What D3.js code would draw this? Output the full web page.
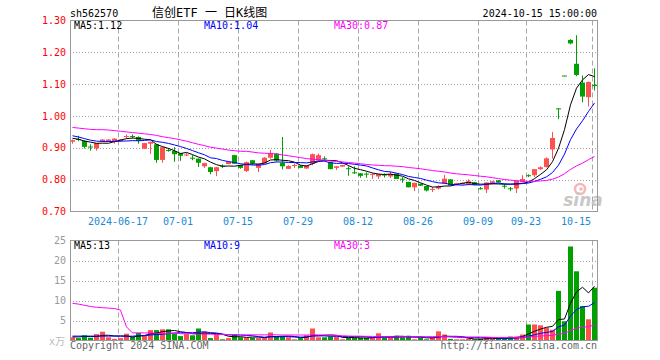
<!DOCTYPE html>
<html><head><meta charset="utf-8">
<script src="https://cdn.jsdelivr.net/npm/d3@7"></script>
<style>html,body{margin:0;padding:0;background:#fff}svg{display:block}</style>
</head><body>
<svg id="chart" width="660" height="360"></svg>
<script>
// ---- data ----
const dates = ["2024-06-04","2024-06-05","2024-06-06","2024-06-07","2024-06-11","2024-06-12","2024-06-13","2024-06-14","2024-06-17","2024-06-18","2024-06-19","2024-06-20","2024-06-21","2024-06-24","2024-06-25","2024-06-26","2024-06-27","2024-06-28",
"2024-07-01","2024-07-02","2024-07-03","2024-07-04","2024-07-05","2024-07-08","2024-07-09","2024-07-10","2024-07-11","2024-07-12","2024-07-15","2024-07-16","2024-07-17","2024-07-18","2024-07-19","2024-07-22","2024-07-23","2024-07-24","2024-07-25","2024-07-26","2024-07-29","2024-07-30","2024-07-31",
"2024-08-01","2024-08-02","2024-08-05","2024-08-06","2024-08-07","2024-08-08","2024-08-09","2024-08-12","2024-08-13","2024-08-14","2024-08-15","2024-08-16","2024-08-19","2024-08-20","2024-08-21","2024-08-22","2024-08-23","2024-08-26","2024-08-27","2024-08-28","2024-08-29","2024-08-30",
"2024-09-02","2024-09-03","2024-09-04","2024-09-05","2024-09-06","2024-09-09","2024-09-10","2024-09-11","2024-09-12","2024-09-13","2024-09-18","2024-09-19","2024-09-20","2024-09-23","2024-09-24","2024-09-25","2024-09-26","2024-09-27","2024-09-30",
"2024-10-08","2024-10-09","2024-10-10","2024-10-11","2024-10-14","2024-10-15"];
const opens  = [0.919,0.928,0.922,0.904,0.898,0.920,0.921,0.920,0.921,0.934,0.937,0.934,0.897,0.913,0.911,0.862,0.893,0.890,0.883,0.878,0.869,0.866,0.842,0.839,0.827,0.844,0.849,0.877,0.846,0.827,0.861,0.837,0.850,0.869,0.882,0.853,0.834,0.844,0.844,0.835,0.850,0.860,0.867,0.855,0.837,0.841,0.836,0.823,0.820,0.819,0.817,0.810,0.816,0.810,0.819,0.803,0.793,0.776,0.787,0.780,0.770,0.772,0.788,0.801,0.784,0.786,0.784,0.792,0.773,0.769,0.786,0.798,0.781,0.773,0.772,0.792,0.814,0.814,0.833,0.840,0.895,1.024,1.127,1.239,1.164,1.105,1.059,1.098];
const highs  = [0.926,0.938,0.924,0.911,0.915,0.927,0.927,0.930,0.927,0.942,0.942,0.936,0.916,0.920,0.913,0.904,0.900,0.902,0.884,0.884,0.877,0.867,0.853,0.840,0.840,0.848,0.857,0.878,0.847,0.857,0.862,0.851,0.871,0.893,0.884,0.934,0.845,0.851,0.846,0.846,0.882,0.882,0.873,0.856,0.843,0.847,0.842,0.842,0.821,0.823,0.820,0.818,0.820,0.826,0.819,0.808,0.793,0.791,0.788,0.780,0.777,0.782,0.815,0.802,0.790,0.791,0.801,0.793,0.777,0.791,0.796,0.799,0.787,0.777,0.797,0.814,0.817,0.834,0.842,0.870,0.950,1.024,1.127,1.241,1.254,1.127,1.108,1.150];
const lows   = [0.913,0.921,0.898,0.891,0.891,0.918,0.919,0.913,0.919,0.929,0.930,0.913,0.896,0.881,0.853,0.853,0.888,0.856,0.859,0.874,0.861,0.840,0.837,0.817,0.811,0.837,0.848,0.850,0.834,0.824,0.846,0.824,0.849,0.866,0.856,0.832,0.833,0.837,0.836,0.834,0.845,0.858,0.860,0.833,0.830,0.840,0.812,0.818,0.806,0.806,0.802,0.802,0.807,0.805,0.802,0.790,0.776,0.764,0.780,0.763,0.761,0.769,0.787,0.782,0.782,0.784,0.783,0.782,0.769,0.758,0.785,0.790,0.772,0.764,0.758,0.791,0.808,0.808,0.831,0.838,0.866,0.990,1.126,1.225,1.125,1.043,1.030,1.080];
const closes = [0.924,0.927,0.903,0.902,0.915,0.926,0.926,0.929,0.926,0.937,0.935,0.922,0.915,0.919,0.862,0.902,0.892,0.880,0.875,0.879,0.868,0.853,0.852,0.824,0.839,0.843,0.856,0.850,0.837,0.855,0.851,0.850,0.869,0.884,0.860,0.842,0.843,0.846,0.837,0.845,0.880,0.877,0.866,0.833,0.842,0.846,0.835,0.822,0.812,0.818,0.818,0.818,0.815,0.818,0.802,0.802,0.776,0.790,0.781,0.766,0.771,0.779,0.803,0.782,0.789,0.790,0.795,0.783,0.772,0.791,0.795,0.791,0.780,0.772,0.796,0.802,0.813,0.833,0.839,0.867,0.931,1.023,1.126,1.228,1.129,1.061,1.107,1.094];
const volumes = [0.8,0.6,1.3,0.7,1.6,2.2,0.8,0.4,0.6,1.7,0.9,1.9,1.2,2.6,2.6,2.8,2.8,1.7,1.1,1.6,1.3,3.0,2.2,0.6,1.6,0.3,0.6,1.5,0.8,0.7,0.7,0.6,0.8,2.0,0.9,1.0,0.8,0.3,0.6,1.3,3.0,0.8,0.8,1.0,0.9,0.3,0.7,0.7,0.7,0.7,0.7,1.8,0.7,0.8,1.2,0.8,1.2,0.3,0.7,0.3,0.7,2.3,1.5,0.4,0.3,0.3,0.5,0.3,0.4,0.7,0.4,0.7,0.7,1.0,1.0,1.5,4.0,4.0,3.8,3.2,2.7,12.4,4.8,23.5,17.3,8.6,5.3,13.2];
// moving-average values before enough in-chart history exists
const priceMa5Head  = [0.930,0.927,0.921,0.918];
const priceMa10Head = [0.938,0.934,0.929,0.924,0.921,0.920,0.920,0.920,0.921];
const priceMa30Head = [0.964,0.962,0.960,0.958,0.957,0.957,0.956,0.954,0.952,0.950,0.948,0.946,0.944,0.942,0.939,0.935,0.932,0.929,0.925,0.921,0.916,0.911,0.907,0.902,0.899,0.896,0.893,0.891,0.889];
const volMa5Head  = [0.9,0.9,1.0,1.0];
const volMa10Head = [1.1,1.1,1.1,1.1,1.1,1.1,1.1,1.1,1.1];
const volMa30Head = [9.3,9.1,8.8,8.5,8.3,8.2,8.1,8.0,7.6,3.4,1.9,1.9,1.9,1.9,1.8,1.8,1.8,1.8,1.7,1.7,1.7,1.6,1.6,1.6,1.5,1.5,1.5,1.5,1.4];
const priceTicks = [0.70,0.80,0.90,1.00,1.10,1.20,1.30];
const volTicks = [5,10,15,20,25];
const dateTicks = ["2024-06-17","2024-07-01","2024-07-15","2024-07-29","2024-08-12","2024-08-26","2024-09-09","2024-09-23","2024-10-15"];
const dateTickLabels = ["2024-06-17","07-01","07-15","07-29","08-12","08-26","09-09","09-23","10-15"];
const legendPrice = ["MA5:1.12","MA10:1.04","MA30:0.87"];
const legendVol = ["MA5:13","MA10:9","MA30:3"];

// ---- helpers ----
function movingAvg(arr, k, head){
  return arr.map((v,i)=> i < k-1 ? head[i] : d3.mean(arr.slice(i-k+1,i+1)));
}
const pMa = [movingAvg(closes,5,priceMa5Head), movingAvg(closes,10,priceMa10Head), movingAvg(closes,30,priceMa30Head)];
const vMa = [movingAvg(volumes,5,volMa5Head), movingAvg(volumes,10,volMa10Head), movingAvg(volumes,30,volMa30Head)];
const maColors = ["#000000","#0000ff","#ff00ff"];
const UP = "#ff5050", DOWN = "#00a000";
const MONO = "'DejaVu Sans Mono', 'Noto Sans CJK SC', monospace";

const svg = d3.select("#chart");
const L = 70, R = 597, PT = 20.5, PB = 211.5, VT = 240.5, VB = 340.5;
const x = d3.scaleBand().domain(dates).range([70, 598]).paddingInner(0).paddingOuter(0);
const y = d3.scaleLinear().domain([0.70,1.30]).range([PB, PT]);
const vy = d3.scaleLinear().domain([0,25]).range([VB, VT]);
const cx = d => x(d) + 2.5;
const isUp = i => closes[i] >= opens[i];

// watermark
const wm = svg.append("g");
wm.append("circle").attr("cx",580).attr("cy",189).attr("r",5).attr("fill","none").attr("stroke","#f2b8b8").attr("stroke-width",2.5);
wm.append("circle").attr("cx",581).attr("cy",189).attr("r",1.8).attr("fill","#f2b8b8");
wm.append("text").attr("x",583).attr("y",206).attr("text-anchor","middle")
  .attr("font-family","'DejaVu Sans', sans-serif").attr("font-weight","bold").attr("font-style","italic")
  .attr("font-size",17).attr("fill","#c8c8c8").text("sina");

// grids
function hGrid(scale, ticks, t, b){
  svg.append("g").selectAll("line").data(ticks.filter(v=>scale(v)>t+1 && scale(v)<b-1)).join("line")
    .attr("x1",L).attr("x2",R).attr("y1",v=>Math.round(scale(v))+0.5).attr("y2",v=>Math.round(scale(v))+0.5)
    .attr("stroke","#a0a0a0").attr("stroke-dasharray","1,2");
}
hGrid(y, priceTicks, PT, PB);
hGrid(vy, volTicks, VT, VB);
[[PT,PB],[VT,VB]].forEach(([t,b])=>{
  svg.append("g").selectAll("line").data(dateTicks).join("line")
    .attr("x1",d=>x(d)+0.5).attr("x2",d=>x(d)+0.5).attr("y1",t).attr("y2",b)
    .attr("stroke","#a8a8a8").attr("stroke-dasharray","5,3");
});

// candles
const cg = svg.append("g");
dates.forEach((d,i)=>{
  const col = isUp(i) ? UP : DOWN;
  cg.append("line").attr("x1",cx(d)).attr("x2",cx(d)).attr("y1",y(highs[i])).attr("y2",y(lows[i])).attr("stroke",col);
  const top = y(Math.max(opens[i],closes[i])), bot = y(Math.min(opens[i],closes[i]));
  cg.append("rect").attr("x",x(d)).attr("width",5).attr("y",top).attr("height",Math.max(1,bot-top)).attr("fill",col);
});
// MA lines price
pMa.forEach((arr,k)=>{
  svg.append("path").datum(arr).attr("fill","none").attr("stroke",maColors[k]).attr("stroke-width",1)
    .attr("d", d3.line().x((v,i)=>cx(dates[i])).y(v=>y(v)));
});

// volume bars
svg.append("g").selectAll("rect").data(volumes).join("rect")
  .attr("x",(v,i)=>x(dates[i])).attr("width",5)
  .attr("y",v=>vy(v)).attr("height",v=>vy(0)-vy(v))
  .attr("fill",(v,i)=>isUp(i)?UP:DOWN);
vMa.forEach((arr,k)=>{
  svg.append("path").datum(arr).attr("fill","none").attr("stroke",maColors[k]).attr("stroke-width",1)
    .attr("d", d3.line().x((v,i)=>cx(dates[i])).y(v=>vy(v)));
});

// frames
svg.append("rect").attr("x",L+0.5).attr("y",PT).attr("width",R-L).attr("height",PB-PT).attr("fill","none").attr("stroke","#999");
svg.append("rect").attr("x",L+0.5).attr("y",VT).attr("width",R-L).attr("height",VB-VT).attr("fill","none").attr("stroke","#999");

// axis labels
const txt = (g)=>g.attr("font-family",MONO).attr("font-size",10);
svg.append("g").call(txt).selectAll("text").data(priceTicks).join("text")
  .attr("x",66).attr("y",v=>y(v)+3.6).attr("text-anchor","end").attr("fill","#ff0000").text(v=>v.toFixed(2));
svg.append("g").call(txt).selectAll("text").data(volTicks).join("text")
  .attr("x",66).attr("y",v=>vy(v)+3.6).attr("text-anchor","end").attr("fill","#999").text(v=>v);
svg.append("text").call(txt).attr("x",49).attr("y",345).attr("fill","#bbb").text("x万");
// date labels: centred on their gridline, but kept inside the frame on the right
svg.append("g").call(txt).selectAll("text").data(dateTicks).join("text")
  .attr("x",d=>Math.min(x(d), R - 6 - 15)).attr("y",224.5).attr("text-anchor","middle").attr("fill","#1a8ad4")
  .text((d,i)=>dateTickLabels[i]);

// legends
[legendPrice, legendVol].forEach((arr,j)=>{
  svg.append("g").call(txt).selectAll("text").data(arr).join("text")
    .attr("x",(t,k)=>74+130*k).attr("y", j===0 ? 29 : 249).attr("fill",(t,k)=>maColors[k]).text(t=>t);
});

// header & footer
svg.append("text").call(txt).attr("x",70).attr("y",17).attr("fill","#000").text("sh562570");
svg.append("text").attr("font-family",MONO).attr("font-size",12).attr("x",152).attr("y",17).attr("fill","#000").text("信创ETF 一 日K线图");
svg.append("text").call(txt).attr("x",597).attr("y",17).attr("text-anchor","end").attr("fill","#000").text("2024-10-15 15:00:00");
svg.append("text").call(txt).attr("x",70).attr("y",349).attr("fill","#666").text("Copyright 2024 SINA.COM");
svg.append("text").call(txt).attr("x",597).attr("y",349).attr("text-anchor","end").attr("fill","#666").text("http://finance.sina.com.cn");
</script>
</body></html>
